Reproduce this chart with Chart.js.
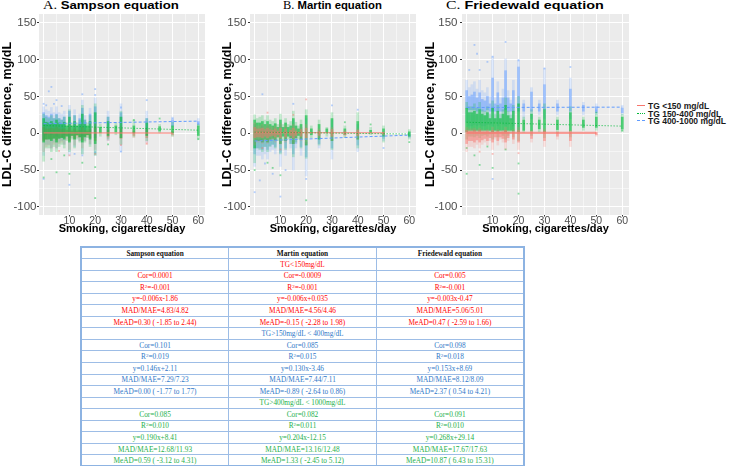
<!DOCTYPE html>
<html>
<head>
<meta charset="utf-8">
<script src="https://cdn.jsdelivr.net/npm/chart.js@4.4.0/dist/chart.umd.min.js"></script>
<style>
  body { margin: 0; background: #fff; }
  #fig { position: relative; width: 733px; height: 466px; overflow: hidden; font-family: 'Liberation Sans', Arial, sans-serif; }
  .panel { position: absolute; top: 0; height: 240px; }
  .ttl { position: absolute; top: -1px; font-size: 11px; line-height: 13px; white-space: nowrap; transform-origin: 0 0; color: #000; }
  .ttl .ab { font-family: 'Liberation Serif', 'Times New Roman', serif; font-size: 12px; }
  #legend { position: absolute; left: 637px; top: 103px; font-size: 8.5px; font-weight: bold; line-height: 7.5px; color: #1a1a1a; }
  #legend .row { height: 7.5px; white-space: nowrap; }
  #legend .key { display: inline-block; width: 8px; height: 0; vertical-align: middle; margin-right: 3px; position: relative; top: -1px; }
  #stats { position: absolute; left: 80px; top: 246px; width: 445px; border-collapse: collapse; table-layout: fixed;
           font-family: 'Liberation Serif', 'Times New Roman', serif; font-size: 7.3px; border: 2px solid #8db3e2; }
  #stats tr { height: 11.55px; }
  #stats td { border: 1px solid #9dbde6; padding: 0; text-align: center; line-height: 9px; white-space: nowrap; overflow: hidden; }
  #stats td.head { font-weight: bold; color: #111; }
  #stats sup { font-size: 5px; vertical-align: 2px; line-height: 0; }
</style>
</head>
<body>
<div id="fig">
  <div class="ttl" style="left:43px; transform:scaleX(1.2)"><span class="ab">A.</span> <b>Sampson equation</b></div>
  <div class="ttl" style="left:283px; transform:scaleX(1.03)"><span class="ab">B.</span> <b>Martin equation</b></div>
  <div class="ttl" style="left:446px; transform:scaleX(1.31)"><span class="ab">C.</span> <b>Friedewald equation</b></div>

  <div class="panel" style="left:0; width:210px"><canvas id="chartA"></canvas></div>
  <div class="panel" style="left:220px; width:200px"><canvas id="chartB"></canvas></div>
  <div class="panel" style="left:423px; width:210px"><canvas id="chartC"></canvas></div>

  <div id="legend">
    <div class="row"><span class="key" style="border-top:1.5px solid #F8766D"></span>TG &lt;150 mg/dL</div>
    <div class="row"><span class="key" style="border-top:1.5px dotted #00BA38"></span>TG 150-400 mg/dL</div>
    <div class="row"><span class="key" style="border-top:1.5px dashed #619CFF"></span>TG 400-1000 mg/dL</div>
  </div>

  <table id="stats"></table>
</div>

<script>
// axis ranges
const X_MIN = -1.8, X_MAX = 62.6;
const Y_MIN = -111, Y_MAX = 162;

// point columns: [cigarettes/day, outer low, dense low, dense high, outer high]
// Sampson
const sampsonRed = [
  [0,-25,-10,8,14],[1,-18,-8,6,12],[2,-16,-7,6,10],[3,-20,-8,7,12],[4,-15,-6,6,10],[5,-20,-9,8,12],
  [6,-14,-6,6,10],[7,-12,-5,5,8],[8,-15,-6,6,10],[9,-8,-3,4,6],[10,-22,-10,8,14],[11,-6,-3,3,5],
  [12,-16,-7,6,10],[13,-6,-3,3,5],[14,-10,-5,4,8],[15,-20,-9,8,12],[16,-10,-4,4,7],[17,-5,-2,3,5],
  [18,-14,-6,5,9],[20,-22,-10,8,14],[25,-10,-5,4,8],[30,-15,-7,6,10],[35,-6,-3,2,5],[40,-15,-6,5,8],[50,-4,-2,2,3]
];
const sampsonGreen = [
  [0,-38,-12,20,26],[1,-20,-8,15,22],[2,-20,-8,14,20],[3,-25,-10,16,24],[4,-18,-7,13,20],[5,-25,-12,18,25],
  [6,-18,-7,14,20],[7,-15,-6,12,18],[8,-20,-8,15,22],[9,-10,-4,10,14],[10,-25,-12,22,32],[11,-8,-3,10,14],
  [12,-20,-8,16,24],[13,-8,-2,10,14],[14,-12,-5,12,18],[15,-28,-12,26,38],[16,-12,-5,12,18],[17,-6,-2,10,14],
  [18,-18,-8,16,24],[20,-30,-14,28,40],[22,-4,0,8,12],[25,-8,-3,16,22],[28,-2,2,10,14],[30,-15,-6,22,30],
  [35,-5,0,10,18],[40,-10,-3,14,20],[45,0,3,9,12],[50,-4,0,10,15],[60,-8,-3,10,12]
];
const sampsonBlue = [
  [0,-30,-8,28,36],[1,-15,-2,24,32],[2,-15,0,22,30],[3,-20,-2,26,35],[4,-12,0,20,28],[5,-20,-4,26,36],
  [6,-12,0,20,28],[7,-10,0,18,26],[8,-15,-2,22,30],[10,-30,-6,30,38],[12,-18,0,24,32],[14,-10,2,20,26],
  [15,-28,-4,34,45],[16,-10,2,18,24],[18,-15,0,26,34],[20,-30,-6,36,48],[25,-10,2,22,30],[30,-25,0,28,40],
  [40,-12,2,20,30],[50,8,10,18,22],[60,10,12,16,20]
];
const sampsonRedOut = [[10,-30],[6,-24],[20,-28],[40,-14],[30,-16]];
const sampsonGreenOut = [[0,-60],[10,-55],[5,-53],[20,-88],[20,-46],[15,-40],[3,-35],[8,-30],[45,20],[35,18],[60,-8],[25,-15]];
const sampsonBlueOut = [[3,63],[2,57],[5,45],[1,38],[4,40],[7,37],[0,40],[15,53],[20,60],[20,52],[40,45],[30,35],
  [0,-62],[10,-70],[20,-26],[15,-30],[30,-25],[12,-28],[50,20],[60,13]];
// fitted lines: [x start, y start, x end, y end] for red, green, blue
const sampsonFits = [[0,0.5,50,0.3],[0,10.5,60,4.2],[0,13,60,16.5]];

// Martin
const martinRed = [
  [0,-16,-6,8,14],[1,-12,-5,6,10],[2,-12,-5,6,10],[3,-14,-6,7,12],[4,-10,-4,5,9],[5,-14,-6,7,12],
  [6,-10,-4,5,9],[7,-8,-3,4,8],[8,-12,-5,6,10],[9,-6,-2,3,6],[10,-15,-6,7,13],[12,-12,-5,6,10],
  [14,-8,-3,4,7],[15,-14,-6,7,12],[16,-7,-3,3,6],[18,-10,-4,5,8],[20,-15,-6,7,12],[25,-6,-3,3,6],
  [30,-10,-4,5,8],[35,-4,-2,2,4],[40,-8,-3,4,6],[50,-2,-1,1,2]
];
const martinGreen = [
  [0,-40,-20,18,25],[1,-20,-10,14,20],[2,-22,-10,14,22],[3,-25,-12,16,24],[4,-18,-8,12,18],[5,-25,-12,16,24],
  [6,-18,-8,12,18],[7,-15,-7,10,16],[8,-20,-9,13,20],[9,-10,-5,8,12],[10,-28,-14,18,26],[11,-10,-4,8,12],
  [12,-22,-10,14,20],[13,-8,-4,8,12],[14,-14,-6,10,16],[15,-32,-14,20,30],[16,-12,-6,10,15],[17,-8,-3,6,10],
  [18,-20,-8,12,18],[20,-34,-16,24,32],[22,-6,-2,6,10],[25,-16,-8,12,18],[28,-4,0,6,8],[30,-22,-10,20,28],
  [35,-6,-2,6,10],[40,-20,-8,16,28],[45,-2,0,4,8],[50,-12,-4,6,10],[60,-8,-4,2,5]
];
const martinBlue = [
  [0,-45,-28,-10,12],[1,-30,-20,-8,6],[2,-30,-20,-8,5],[3,-35,-22,-8,10],[4,-28,-18,-8,5],[5,-35,-22,-8,10],
  [6,-25,-17,-8,5],[7,-22,-15,-8,3],[8,-28,-18,-8,5],[10,-45,-26,-10,14],[12,-30,-20,-8,8],[14,-20,-14,-6,3],
  [15,-50,-28,-10,18],[16,-20,-14,-6,2],[18,-30,-18,-6,8],[20,-58,-32,-12,20],[25,-20,-14,-6,4],[30,-35,-20,-6,18],
  [40,-25,-16,-6,12],[50,-10,-7,-3,2],[60,-6,-5,-2,1]
];
const martinRedOut = [[20,46],[5,28],[15,25],[10,-22],[3,-20]];
const martinGreenOut = [[20,-91],[7,-47],[10,-57],[0,-50],[5,-40],[35,15],[45,12],[60,-12]];
const martinBlueOut = [[3,53],[15,40],[30,38],[40,32],[50,-20],[0,-80],[10,-86],[2,-64],[20,-62],[4,-41],[12,-50],[7,-55]];
const martinFits = [[0,0.8,50,0.5],[0,1.5,60,-1],[0,-10.5,60,-2.5]];

// Friedewald
const friedewaldRed = [
  [0,-25,-14,4,8],[1,-18,-10,3,6],[2,-18,-10,3,6],[3,-20,-12,4,7],[4,-15,-9,2,5],[5,-20,-12,4,7],
  [6,-15,-9,2,5],[7,-12,-7,2,4],[8,-16,-10,3,5],[9,-10,-6,1,3],[10,-22,-12,4,8],[11,-8,-5,1,3],
  [12,-16,-10,3,5],[13,-8,-5,1,3],[14,-12,-7,2,4],[15,-22,-12,4,8],[16,-10,-6,1,3],[18,-14,-8,2,5],
  [20,-22,-12,4,8],[25,-12,-7,2,4],[30,-18,-10,3,6],[35,-8,-4,1,2],[40,-18,-10,2,4],[50,-4,-2,1,2]
];
const friedewaldGreen = [
  [0,-8,2,34,42],[1,-4,4,28,36],[2,-4,4,28,36],[3,-5,3,30,40],[4,-3,4,26,34],[5,-6,3,32,42],
  [6,-3,4,26,32],[7,-2,4,24,30],[8,-4,4,28,36],[9,-1,4,20,26],[10,-8,2,34,44],[11,0,4,20,26],
  [12,-5,3,30,38],[13,0,4,20,26],[14,-3,4,26,32],[15,-8,2,38,48],[16,-3,4,24,30],[17,0,4,20,25],
  [18,-5,3,30,38],[20,-10,2,40,50],[22,1,4,18,22],[25,-3,3,26,32],[28,2,6,18,22],[30,-6,2,32,40],
  [35,1,5,18,22],[40,-5,3,28,36],[45,4,8,18,22],[50,4,8,22,26],[60,2,6,22,26]
];
const friedewaldBlue = [
  [0,15,34,58,72],[1,10,32,50,62],[2,10,32,52,66],[3,12,32,56,70],[4,10,30,48,60],[5,12,32,55,72],
  [6,10,30,46,58],[7,10,30,44,55],[8,12,32,50,62],[9,12,30,40,50],[10,10,30,75,104],[11,15,30,40,48],
  [12,10,30,55,70],[13,15,30,40,48],[14,12,30,48,60],[15,10,32,85,101],[16,12,30,48,58],[17,18,30,40,45],
  [18,10,30,58,72],[20,5,30,90,100],[22,20,30,40,45],[25,20,30,56,62],[28,25,30,40,45],[30,20,32,66,88],
  [35,25,30,40,45],[40,20,30,60,75],[45,25,30,38,42],[50,25,28,36,40],[60,25,28,34,38]
];
const friedewaldRedOut = [[10,-28],[20,-27],[5,-25]];
const friedewaldGreenOut = [[20,-82],[0,-55],[5,-43],[20,-41],[10,-47],[3,-30],[0,-20],[8,-18],[15,-22],[50,28],[60,4]];
const friedewaldBlueOut = [[15,124],[3,120],[4,108],[10,104],[20,99],[8,97],[1,86],[5,86],[30,88],[40,90],[10,-62],[50,31]];
const friedewaldFits = [[0,0.5,50,0.5],[0,15,60,9.7],[0,35,60,35.5]];

// table text
const tableCols = ['Sampson equation', 'Martin equation', 'Friedewald equation'];
const tgGroups = ['TG<150mg/dL', 'TG>150mg/dL < 400mg/dL', 'TG>400mg/dL < 1000mg/dL'];
const groupColors = ['#ff0000', '#2f78c8', '#1db04c'];
const corVals = [['0.0001', '-0.0009', '0.005'], ['0.101', '0.085', '0.098'], ['0.085', '0.082', '0.091']];
const r2Vals = [['-0.001', '-0.001', '-0.001'], ['0.019', '0.015', '0.018'], ['0.010', '0.011', '0.010']];
const fitEqs = [['y=-0.006x-1.86', 'y=-0.006x+0.035', 'y=-0.003x-0.47'],
                ['y=0.146x+2.11', 'y=0.130x-3.46', 'y=0.153x+8.69'],
                ['y=0.190x+8.41', 'y=0.204x-12.15', 'y=0.268x+29.14']];
const madMae = [['4.83/4.82', '4.56/4.46', '5.06/5.01'], ['7.29/7.23', '7.44/7.11', '8.12/8.09'],
                ['12.68/11.93', '13.16/12.48', '17.67/17.63']];
const meadVals = [['0.30 ( -1.85 to 2.44)', '-0.15 ( -2.28 to 1.98)', '0.47 ( -2.59 to 1.66)'],
                  ['0.00 ( -1.77 to 1.77)', '-0.89 ( -2.64 to 0.86)', '2.37 ( 0.54 to 4.21)'],
                  ['0.59 ( -3.12 to 4.31)', '1.33 ( -2.45 to 5.12)', '10.87 ( 6.43 to 15.31)']];

const FONT = "'Liberation Sans', Arial, sans-serif";
const RED = '248,118,109', GREEN = '0,186,56', BLUE = '97,156,255';

function rgba(rgb, a) { return 'rgba(' + rgb + ',' + a + ')'; }

// gray ggplot panel behind the grid
const panelBg = {
  id: 'panelBg',
  beforeDraw(chart) {
    const { ctx, chartArea: a } = chart;
    ctx.save();
    ctx.fillStyle = '#EBEBEB';
    ctx.fillRect(a.left, a.top, a.right - a.left, a.bottom - a.top);
    ctx.restore();
  }
};

function groupSets(cols, outs, fit, rgb, order, alphas, dash, width, lineAlpha) {
  return [
    { type: 'bar', data: cols.map(c => ({ x: c[0], y: [c[1], c[4]] })), backgroundColor: rgba(rgb, alphas[0]),
      barThickness: 2, grouped: false, borderWidth: 0, order: order },
    { type: 'bar', data: cols.map(c => ({ x: c[0], y: [c[2], c[3]] })), backgroundColor: rgba(rgb, alphas[1]),
      barThickness: 2, grouped: false, borderWidth: 0, order: order },
    { type: 'scatter', data: outs.map(p => ({ x: p[0], y: p[1] })), pointStyle: 'rect', pointRadius: 1.3,
      backgroundColor: rgba(rgb, 0.45), borderWidth: 0, order: order },
    { type: 'line', data: [{ x: fit[0], y: fit[1] }, { x: fit[2], y: fit[3] }], borderColor: rgba(rgb, lineAlpha),
      borderWidth: width, borderDash: dash, pointRadius: 0, fill: false, order: 0 }
  ];
}

function panelConfig(sets, yWidth, yTickPad, padRight) {
  return {
    type: 'scatter',
    data: { datasets: sets },
    options: {
      responsive: true,
      maintainAspectRatio: false,
      animation: false,
      layout: { padding: { top: 14, right: padRight, bottom: 0, left: 0 } },
      plugins: { legend: { display: false }, tooltip: { enabled: false } },
      scales: {
        x: {
          type: 'linear', min: X_MIN, max: X_MAX, offset: false,
          afterFit: s => { s.height = 25; },
          border: { display: false },
          grid: {
            color: '#ffffff', offset: false, tickLength: 1.5, tickWidth: 1,
            lineWidth: c => (c.tick && c.tick.value % 10 === 0) ? 1 : 0.5,
            tickColor: c => (c.tick && c.tick.value % 10 === 0 && c.tick.value > 0) ? '#333333' : 'rgba(0,0,0,0)'
          },
          ticks: {
            stepSize: 5, includeBounds: false, autoSkip: false, maxRotation: 0, padding: -2,
            color: '#4d4d4d', font: { family: FONT, size: 10.5 },
            callback: v => (v % 10 === 0 && v > 0) ? v : ''
          },
          title: { display: true, text: 'Smoking, cigarettes/day', color: '#000',
                   font: { family: FONT, size: 11, weight: 'bold' }, padding: { top: 0, bottom: 4 } }
        },
        y: {
          type: 'linear', min: Y_MIN, max: Y_MAX,
          afterFit: s => { s.width = yWidth; },
          border: { display: false },
          grid: {
            color: '#ffffff', tickLength: 2, tickWidth: 1,
            lineWidth: c => (c.tick && c.tick.value % 50 === 0) ? 1 : 0.5,
            tickColor: c => (c.tick && c.tick.value % 50 === 0) ? '#333333' : 'rgba(0,0,0,0)'
          },
          ticks: {
            stepSize: 25, includeBounds: false, autoSkip: false, padding: yTickPad,
            color: '#4d4d4d', font: { family: FONT, size: 11.5 },
            callback: v => (v % 50 === 0) ? v : ''
          },
          title: { display: true, text: 'LDL-C difference, mg/dL', color: '#000',
                   font: { family: FONT, size: 12.5, weight: 'bold' }, padding: 0 }
        }
      }
    },
    plugins: [panelBg]
  };
}

// orders: lower value is painted later (on top)
function panelSets(red, green, blue, redOut, greenOut, blueOut, fits, redWidth, orders, blueCore) {
  return [].concat(
    groupSets(green, greenOut, fits[1], GREEN, orders[0], [0.22, 0.6], [1, 2], 1, 1),
    groupSets(red, redOut, fits[0], RED, orders[1], [0.2, 0.5], [], redWidth, redWidth > 1.5 ? 0.7 : 1),
    groupSets(blue, blueOut, fits[2], BLUE, orders[2], [0.2, blueCore], [3, 2], 1, 1)
  );
}

new Chart(document.getElementById('chartA'), panelConfig(
  panelSets(sampsonRed, sampsonGreen, sampsonBlue, sampsonRedOut, sampsonGreenOut, sampsonBlueOut, sampsonFits, 1, [1, 2, 3], 0.5),
  39, 0.5, 5));
new Chart(document.getElementById('chartB'), panelConfig(
  panelSets(martinRed, martinGreen, martinBlue, martinRedOut, martinGreenOut, martinBlueOut, martinFits, 1, [2, 1, 3], 0.35),
  30, 1.5, 3));
new Chart(document.getElementById('chartC'), panelConfig(
  panelSets(friedewaldRed, friedewaldGreen, friedewaldBlue, friedewaldRedOut, friedewaldGreenOut, friedewaldBlueOut, friedewaldFits, 2.2, [2, 1, 3], 0.5),
  39, 2.5, 3));

// statistics table under the panels
const table = document.getElementById('stats');
function addRow(cells, color, cls) {
  const tr = document.createElement('tr');
  cells.forEach(c => {
    const td = document.createElement('td');
    if (cls) td.className = cls;
    if (color) td.style.color = color;
    if (Array.isArray(c)) {
      td.appendChild(document.createTextNode(c[0]));
      const sup = document.createElement('sup');
      sup.textContent = c[1];
      td.appendChild(sup);
      td.appendChild(document.createTextNode(c[2]));
    } else {
      td.textContent = c;
    }
    tr.appendChild(td);
  });
  table.appendChild(tr);
}
addRow(tableCols, null, 'head');
tgGroups.forEach((g, i) => {
  const col = groupColors[i];
  addRow(['', g, ''], col);
  addRow(corVals[i].map(v => 'Cor=' + v), col);
  addRow(r2Vals[i].map(v => ['R', '2', '=' + v]), col);
  addRow(fitEqs[i], col);
  addRow(madMae[i].map(v => 'MAD/MAE=' + v), col);
  addRow(meadVals[i].map(v => 'MeAD=' + v), col);
});
</script>
</body>
</html>
